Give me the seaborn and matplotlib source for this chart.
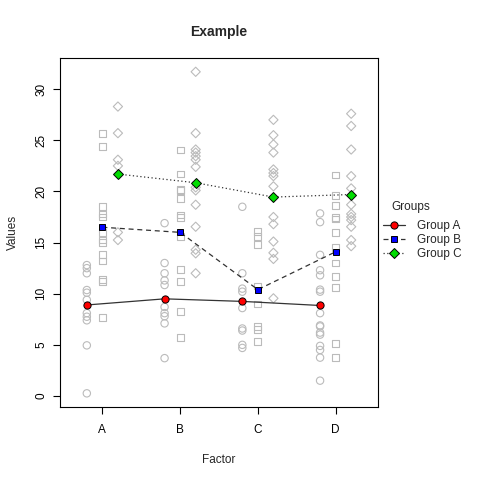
import matplotlib
matplotlib.use("Agg")
import matplotlib.pyplot as plt
from matplotlib.lines import Line2D
import seaborn as sns
import pandas as pd
import numpy as np

categories = ["A", "B", "C", "D"]
groups = ["Group A", "Group B", "Group C"]

group_a = {
    "A": [12.8, 12.5, 12.0, 10.36, 10.1, 9.4, 8.1, 7.75, 7.4, 4.95, 0.26],
    "B": [16.9, 13.0, 12.0, 11.3, 10.85, 8.7, 8.1, 7.8, 7.1, 3.7],
    "C": [18.5, 12.0, 10.5, 10.2, 8.6, 6.6, 6.4, 5.0, 4.7],
    "D": [17.85, 17.0, 13.8, 12.3, 11.8, 10.4, 10.2, 8.1, 6.9, 6.8, 6.2, 6.0, 4.9, 4.5, 3.75, 1.5],
}
group_b = {
    "A": [25.7, 24.4, 18.5, 17.8, 17.5, 16.0, 15.25, 15.0, 13.85, 13.2, 11.4, 11.2, 7.65],
    "B": [24.05, 21.7, 20.2, 20.1, 19.3, 17.7, 17.45, 15.6, 12.4, 11.2, 8.3, 5.7],
    "C": [16.1, 15.6, 14.8, 10.75, 9.0, 6.8, 6.5, 5.3],
    "D": [21.6, 19.6, 18.6, 17.45, 17.3, 16.0, 14.5, 13.0, 11.7, 10.6, 5.15, 3.8],
}
group_c = {
    "A": [28.3, 25.7, 23.1, 22.5, 16.0, 15.25],
    "B": [31.7, 25.7, 24.1, 23.8, 23.45, 23.1, 22.4, 20.4, 20.1, 18.7, 16.55, 14.3, 13.95, 12.0],
    "C": [27.0, 25.5, 24.6, 23.8, 22.15, 21.8, 21.5, 20.5, 17.5, 16.8, 15.1, 14.0, 13.4, 9.55],
    "D": [27.6, 26.4, 24.1, 21.5, 20.3, 18.7, 17.8, 17.5, 17.2, 16.55, 15.25, 14.65],
}
# group means
means_a = [8.9, 9.5, 9.25, 8.85]
means_b = [16.5, 16.0, 10.4, 14.1]
means_c = [21.7, 20.85, 19.45, 19.7]

raw = [group_a, group_b, group_c]
means = [means_a, means_b, means_c]
offsets = [-0.2, 0.0, 0.2]
open_markers = ["o", "s", "D"]
open_sizes = [28, 24, 22]
fill_colors = ["#FF0000", "#0000FF", "#00DD00"]
line_styles = ["-", (0, (4, 3)), (0, (1, 2))]
mean_sizes = [5.2, 4.8, 4.8]

sns.set_style("white")
plt.rcParams["font.family"] = ["Liberation Sans", "DejaVu Sans"]

fig = plt.figure(figsize=(4.8, 4.8), dpi=100)
ax = fig.add_axes([0.125, 0.152, 0.6625, 0.727])

for gi, (gdict, off) in enumerate(zip(raw, offsets)):
    rows = []
    for ci, cat in enumerate(categories):
        for v in gdict[cat]:
            rows.append({"x": ci + 1 + off, "value": v})
    df = pd.DataFrame(rows)
    sns.scatterplot(data=df, x="x", y="value", marker=open_markers[gi],
                    s=open_sizes[gi], facecolors="none", edgecolor="#BBBBBB",
                    linewidth=0.8, ax=ax, legend=False, zorder=2)

handles = []
for gi in range(3):
    dfm = pd.DataFrame({"x": np.arange(1, 5) + offsets[gi], "value": means[gi]})
    sns.lineplot(data=dfm, x="x", y="value", color="#333333", linewidth=0.9,
                 linestyle=line_styles[gi], marker=open_markers[gi],
                 markersize=mean_sizes[gi], markerfacecolor=fill_colors[gi],
                 markeredgecolor="black", markeredgewidth=0.7, ax=ax, zorder=3,
                 legend=False)
    handles.append(Line2D([0], [0], color="#333333", linewidth=0.9,
                          linestyle=line_styles[gi], marker=open_markers[gi],
                          markersize=mean_sizes[gi],
                          markerfacecolor=fill_colors[gi], markeredgecolor="black",
                          markeredgewidth=0.7))

ax.set_xlim(0.455, 4.545)
ax.set_ylim(-1.08, 33.04)
ax.set_xticks([1, 2, 3, 4])
ax.set_xticklabels(categories)
ax.set_yticks([0, 5, 10, 15, 20, 25, 30])
ax.set_yticklabels(["0", "5", "10", "15", "20", "25", "30"], rotation=90, va="center")
ax.tick_params(axis="both", direction="out", length=5, width=0.8, labelsize=8.5,
               bottom=True, left=True, colors="black")
ax.tick_params(axis="x", pad=7.5)
ax.tick_params(axis="y", pad=4)
for s in ax.spines.values():
    s.set_color("black")
    s.set_linewidth(0.8)

ax.set_xlabel("Factor", fontsize=8.5, labelpad=13)
ax.set_ylabel("Values", fontsize=8.5, labelpad=12)
ax.set_title("Example", fontsize=10, fontweight="bold", pad=16)

leg = ax.legend(handles, groups, loc="center left",
                bbox_to_anchor=(1.0, 0.4785), frameon=False, fontsize=8.5,
                handlelength=1.9, handletextpad=1.0, borderaxespad=0.0,
                labelspacing=0.2)
fig.text(411 / 480, 1 - 207 / 480, "Groups", fontsize=8.5, ha="center", va="center")

fig.savefig("out.png", dpi=100)
